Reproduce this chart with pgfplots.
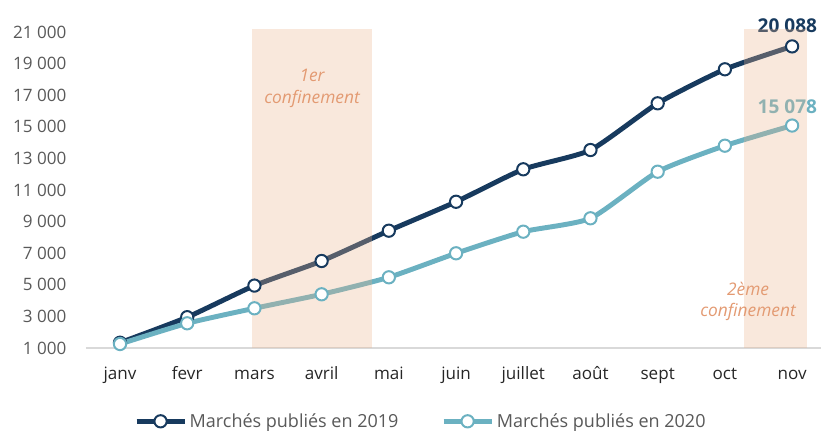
\documentclass[border=0pt]{standalone}
\usepackage{pgfplots}
\pgfplotsset{compat=1.18}
\usepackage{fontspec}
\setmainfont{Open Sans}
\definecolor{navy}{HTML}{173A5E}
\definecolor{teal}{HTML}{6BB1C1}
\definecolor{peach}{RGB}{235,180,140}
\definecolor{salmon}{HTML}{E39A72}
\definecolor{ygrey}{HTML}{595959}
\definecolor{axgrey}{HTML}{D9D9D9}
\begin{document}
\begin{tikzpicture}
\begin{axis}[
  scale only axis,
  width=551.25pt, height=237pt,
  xmin=-0.506, xmax=10.43,
  ymin=1000, ymax=21000,
  clip=false,
  axis x line*=bottom,
  axis y line*=left,
  axis line style={draw=none},
  xtick={0,...,10},
  xticklabels={janv,fevr,mars,avril,mai,juin,juillet,août,sept,oct,nov},
  xtick style={draw=none},
  ytick={1000,3000,...,21000},
  scaled y ticks=false,
  ytick style={draw=none},
  yticklabel style={anchor=east, inner sep=0pt, xshift=-14.5pt, text=ygrey, font=\fontsize{12.8}{14}\selectfont,
    /pgf/number format/fixed, /pgf/number format/precision=0},
  xticklabel style={anchor=base, inner sep=0pt, yshift=-24pt, text=black!85, font=\fontsize{12.8}{14}\selectfont},
  /pgf/number format/assume math mode=true,
  /pgf/number format/1000 sep={\ },
  legend style={at={(0.456,-0.232)}, anchor=center, draw=none, legend columns=2,
    font=\fontsize{13.5}{15}\selectfont, text=ygrey, inner sep=1pt,
    /tikz/every even column/.append style={column sep=30pt}},
  legend image code/.code={
    \draw[#1, mark=none] (0pt,0pt) -- (36pt,0pt);
    \draw[#1, only marks] plot coordinates {(18pt,0pt)};
  },
]
\draw[axgrey, line width=1pt] (axis cs:-0.506,1000) -- (axis cs:10.43,1000);
\addplot[navy, line width=3.7pt, smooth, tension=0.35, mark=*, mark size=4.6pt,
  mark options={fill=white, line width=1.5pt, draw=navy}] coordinates {
  (0,1335) (1,2950) (2,4950) (3,6506) (4,8424) (5,10255) (6,12310)
  (7,13530) (8,16487) (9,18640) (10,20088)};
\addlegendentry{Marchés publiés en 2019}
\addplot[teal, line width=3.7pt, smooth, tension=0.35, mark=*, mark size=4.6pt,
  mark options={fill=white, line width=1.5pt, draw=teal}] coordinates {
  (0,1253) (1,2563) (2,3513) (3,4399) (4,5475) (5,6994) (6,8361)
  (7,9209) (8,12158) (9,13804) (10,15078)};
\addlegendentry{Marchés publiés en 2020}
\node[font=\fontsize{14.3}{16}\selectfont\bfseries, text=navy] at (axis cs:9.93,21420) {20\ 088};
\node[font=\fontsize{14.3}{16}\selectfont\bfseries, text=teal] at (axis cs:9.93,16300) {15\ 078};
\fill[peach, opacity=0.3] (axis cs:1.964,1000) rectangle (axis cs:3.75,21190);
\fill[peach, opacity=0.3] (axis cs:9.286,1000) rectangle (axis cs:10.22,21190);
\node[font=\fontsize{13}{16}\selectfont\itshape, text=salmon, align=center] at (axis cs:2.857,17430) {1er\\confinement};
\node[font=\fontsize{13}{16}\selectfont\itshape, text=salmon, align=center] at (axis cs:9.345,3930) {2ème\\confinement};
\end{axis}
\pgfresetboundingbox
\path[use as bounding box] (-64.5pt,-62.25pt) rectangle (551.25pt,261pt);
\end{tikzpicture}
\end{document}
